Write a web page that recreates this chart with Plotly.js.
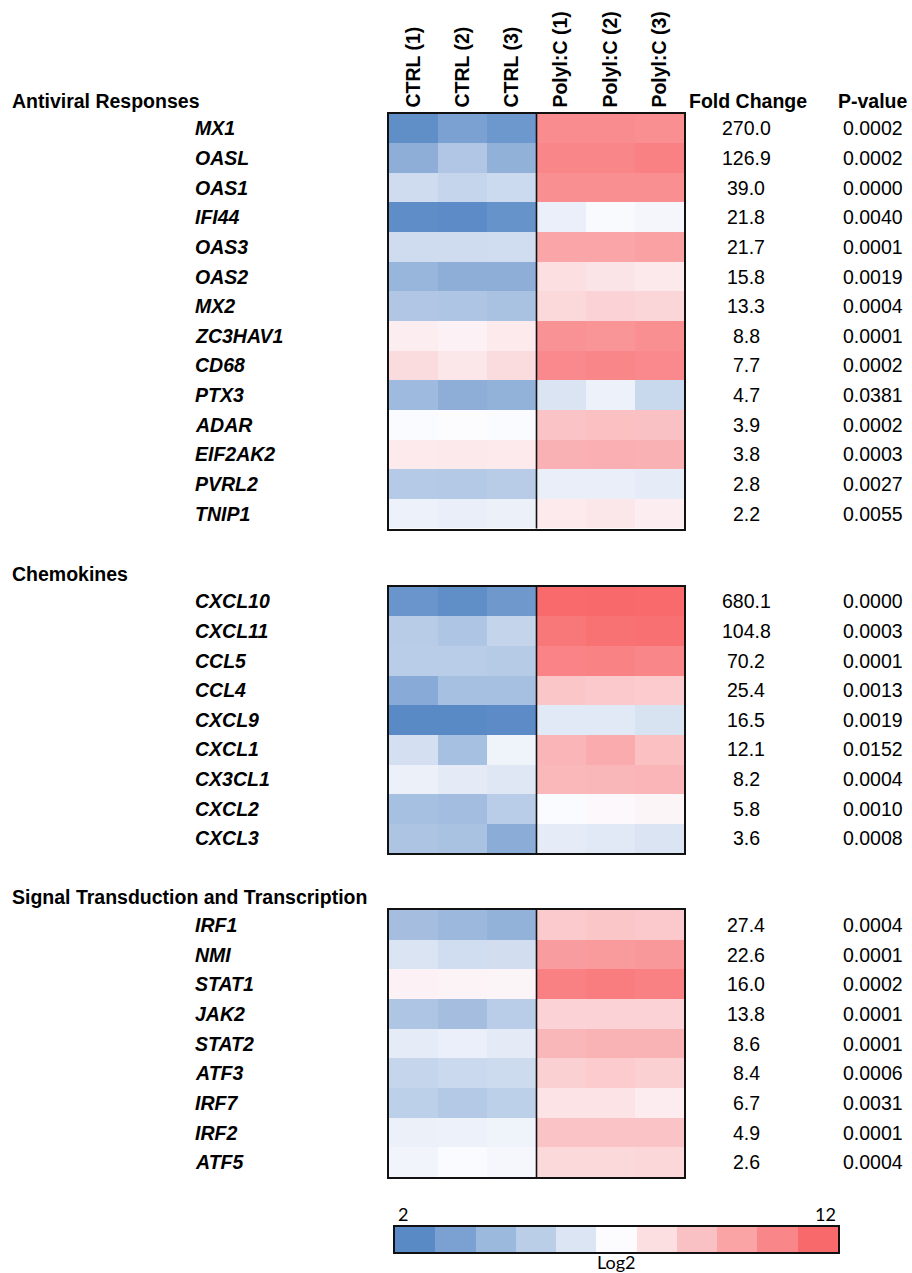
<!DOCTYPE html>
<html>
<head>
<meta charset="utf-8">
<script src="https://cdn.plot.ly/plotly-3.0.1.min.js"></script>
<style>html,body{margin:0;padding:0;background:#fff;}#chart{width:912px;height:1273px;}</style>
</head>
<body>
<div id="chart"></div>
<script>
// ---------------- DATA ----------------
const samples = ['CTRL (1)', 'CTRL (2)', 'CTRL (3)', 'Polyl:C (1)', 'Polyl:C (2)', 'Polyl:C (3)'];

const sectionA = 'Antiviral Responses';
const genesA = ['MX1','OASL','OAS1','IFI44','OAS3','OAS2','MX2','ZC3HAV1','CD68','PTX3','ADAR','EIF2AK2','PVRL2','TNIP1'];
const log2A = [
  [2.2, 3.0, 2.6, 10.8, 10.8, 10.7],
  [3.6, 4.65, 3.7, 11.0, 11.0, 11.2],
  [5.6, 5.3, 5.5, 10.7, 10.7, 10.7],
  [2.15, 2.05, 2.4, 6.45, 6.9, 6.75],
  [5.6, 5.6, 5.65, 9.95, 9.95, 10.1],
  [3.9, 3.6, 3.6, 8.0, 7.8, 7.65],
  [4.65, 4.6, 4.45, 8.2, 8.4, 8.3],
  [7.5, 7.35, 7.6, 10.6, 10.5, 10.7],
  [8.1, 7.75, 8.1, 10.9, 11.0, 10.9],
  [4.1, 3.6, 3.75, 5.95, 6.55, 5.4],
  [6.95, 7.05, 6.95, 8.95, 9.05, 9.0],
  [7.6, 7.65, 7.6, 9.55, 9.6, 9.55],
  [4.8, 4.75, 4.9, 6.4, 6.4, 6.3],
  [6.55, 6.4, 6.5, 7.6, 7.75, 7.5]
];
const foldA = ['270.0','126.9','39.0','21.8','21.7','15.8','13.3','8.8','7.7','4.7','3.9','3.8','2.8','2.2'];
const pvalA = ['0.0002','0.0002','0.0000','0.0040','0.0001','0.0019','0.0004','0.0001','0.0002','0.0381','0.0002','0.0003','0.0027','0.0055'];

const sectionC = 'Chemokines';
const genesC = ['CXCL10','CXCL11','CCL5','CCL4','CXCL9','CXCL1','CX3CL1','CXCL2','CXCL3'];
const log2C = [
  [2.5, 2.2, 2.65, 11.95, 12.0, 11.95],
  [4.9, 4.6, 5.25, 11.5, 11.7, 11.75],
  [4.95, 4.95, 4.85, 11.1, 11.15, 11.0],
  [3.4, 4.35, 4.35, 8.85, 8.75, 8.65],
  [2.0, 2.0, 2.05, 6.15, 6.15, 5.9],
  [5.75, 4.35, 6.6, 9.4, 9.75, 9.05],
  [6.5, 6.25, 6.1, 9.3, 9.35, 9.4],
  [4.35, 4.25, 4.95, 6.95, 7.15, 7.25],
  [4.55, 4.45, 3.5, 6.3, 6.15, 5.95]
];
const foldC = ['680.1','104.8','70.2','25.4','16.5','12.1','8.2','5.8','3.6'];
const pvalC = ['0.0000','0.0003','0.0001','0.0013','0.0019','0.0152','0.0004','0.0010','0.0008'];

const sectionS = 'Signal Transduction and Transcription';
const genesS = ['IRF1','NMI','STAT1','JAK2','STAT2','ATF3','IRF7','IRF2','ATF5'];
const log2S = [
  [4.3, 4.05, 3.75, 8.7, 8.85, 8.75],
  [5.95, 5.65, 5.7, 10.25, 10.3, 10.4],
  [7.35, 7.3, 7.25, 11.2, 11.35, 11.2],
  [4.6, 4.3, 4.95, 8.4, 8.4, 8.4],
  [6.3, 6.45, 6.25, 9.35, 9.5, 9.5],
  [5.3, 5.45, 5.55, 8.5, 8.65, 8.5],
  [5.05, 4.75, 5.05, 7.85, 7.85, 7.55],
  [6.5, 6.55, 6.6, 8.95, 8.95, 8.9],
  [6.65, 6.95, 6.8, 8.2, 8.2, 8.25]
];
const foldS = ['27.4','22.6','16.0','13.8','8.6','8.4','6.7','4.9','2.6'];
const pvalS = ['0.0004','0.0001','0.0002','0.0001','0.0001','0.0006','0.0031','0.0001','0.0004'];

const scaleSteps = [2, 3, 4, 5, 6, 7, 8, 9, 10, 11, 12];
const scaleMin = 2, scaleMax = 12;
const scaleTitle = 'Log2';
const headerFold = 'Fold Change';
const headerP = 'P-value';

// ---------------- STYLE ----------------
const W = 912, H = 1273;
const FONT = 'Liberation Sans, Arial, sans-serif';
const FS = 19.5;
const colorscale = [[0, '#5A8AC6'], [0.5, '#FCFCFF'], [1, '#F8696B']];
const px = v => v / W;
const py = v => 1 - v / H;

const blocks = [
  {name: sectionA, genes: genesA, z: log2A, fold: foldA, pval: pvalA, top: 113.5, bottom: 528.5},
  {name: sectionC, genes: genesC, z: log2C, fold: foldC, pval: pvalC, top: 586.5, bottom: 853},
  {name: sectionS, genes: genesS, z: log2S, fold: foldS, pval: pvalS, top: 910, bottom: 1177}
];

const data = [];
const layout = {
  width: W, height: H,
  margin: {l: 0, r: 0, t: 0, b: 0},
  paper_bgcolor: '#fff', plot_bgcolor: '#fff',
  font: {family: FONT, color: '#000'},
  showlegend: false,
  annotations: [],
  shapes: []
};

blocks.forEach((b, i) => {
  const n = i === 0 ? '' : String(i + 1);
  const xa = 'x' + n, ya = 'y' + n;
  data.push({
    type: 'heatmap',
    x: samples, y: b.genes, z: b.z,
    xaxis: xa, yaxis: ya,
    colorscale: colorscale, zmin: scaleMin, zmax: scaleMax,
    showscale: false, xgap: 0, ygap: 0,
    hoverinfo: 'skip'
  });
  layout['xaxis' + n] = {
    domain: [px(389), px(684)], anchor: ya,
    type: 'category',
    side: 'top',
    showticklabels: i === 0,
    tickangle: -90,
    tickmode: 'array', tickvals: samples,
    ticktext: samples.map(s => '<b>' + s + '</b>'),
    tickfont: {family: FONT, size: FS, color: '#000'},
    ticks: '', showgrid: false, zeroline: false,
    showline: true, linecolor: '#111', linewidth: 2, mirror: true,
    fixedrange: true
  };
  layout['yaxis' + n] = {
    domain: [py(b.bottom), py(b.top)], anchor: xa,
    type: 'category', autorange: 'reversed',
    showticklabels: false, ticks: '', showgrid: false, zeroline: false,
    showline: true, linecolor: '#111', linewidth: 2, mirror: true,
    fixedrange: true
  };
  // divider between CTRL and Poly I:C
  layout.shapes.push({
    type: 'line', xref: xa, yref: ya + ' domain',
    x0: 2.5, x1: 2.5, y0: 0, y1: 1,
    line: {color: '#111', width: 1.6}
  });
  // section header
  layout.annotations.push({
    xref: 'paper', yref: ya + ' domain', x: px(10), y: 1,
    xanchor: 'left', yanchor: 'bottom', yshift: 0,
    text: '<b>' + b.name + '</b>', showarrow: false,
    font: {family: FONT, size: FS, color: '#000'}
  });
  b.genes.forEach((g, k) => {
    layout.annotations.push({
      xref: 'paper', yref: ya, x: px(193), y: g,
      xanchor: 'left', yanchor: 'middle',
      text: '<b><i>' + g + '</i></b>', showarrow: false,
      font: {family: FONT, size: FS, color: '#000'}
    });
    layout.annotations.push({
      xref: 'paper', yref: ya, x: px(746), y: g,
      xanchor: 'center', yanchor: 'middle',
      text: b.fold[k], showarrow: false,
      font: {family: FONT, size: FS, color: '#000'}
    });
    layout.annotations.push({
      xref: 'paper', yref: ya, x: px(873), y: g,
      xanchor: 'center', yanchor: 'middle',
      text: b.pval[k], showarrow: false,
      font: {family: FONT, size: FS, color: '#000'}
    });
  });
});

// column headers for fold change / p-value
[[headerFold, 748], [headerP, 873]].forEach(([t, x]) => {
  layout.annotations.push({
    xref: 'paper', yref: 'y domain', x: px(x), y: 1,
    xanchor: 'center', yanchor: 'bottom', yshift: 0,
    text: '<b>' + t + '</b>', showarrow: false,
    font: {family: FONT, size: FS, color: '#000'}
  });
});

// colour scale strip
data.push({
  type: 'heatmap',
  x: scaleSteps.map(String), y: [scaleTitle], z: [scaleSteps],
  xaxis: 'x4', yaxis: 'y4',
  colorscale: colorscale, zmin: scaleMin, zmax: scaleMax,
  showscale: false, hoverinfo: 'skip'
});
layout.xaxis4 = {
  domain: [px(395), px(838)], anchor: 'y4', type: 'category',
  showticklabels: false, ticks: '', showgrid: false, zeroline: false,
  showline: true, linecolor: '#111', linewidth: 2, mirror: true, fixedrange: true
};
layout.yaxis4 = {
  domain: [py(1252), py(1227)], anchor: 'x4', type: 'category',
  showticklabels: false, ticks: '', showgrid: false, zeroline: false,
  showline: true, linecolor: '#111', linewidth: 2, mirror: true, fixedrange: true
};
const cbFont = {family: 'Lato, Liberation Sans, sans-serif', size: 18, color: '#000'};
layout.annotations.push(
  {xref: 'x4 domain', yref: 'y4 domain', x: 0, y: 1, xanchor: 'left', yanchor: 'bottom', yshift: 0, xshift: 1,
   text: String(scaleMin), showarrow: false, font: cbFont},
  {xref: 'x4 domain', yref: 'y4 domain', x: 1, y: 1, xanchor: 'right', yanchor: 'bottom', yshift: 0,
   text: String(scaleMax), showarrow: false, font: cbFont},
  {xref: 'x4 domain', yref: 'y4 domain', x: 0.5, y: 0, xanchor: 'center', yanchor: 'top', yshift: 3,
   text: scaleTitle, showarrow: false, font: cbFont}
);

Plotly.newPlot('chart', data, layout, {staticPlot: true, displayModeBar: false});
</script>
</body>
</html>
